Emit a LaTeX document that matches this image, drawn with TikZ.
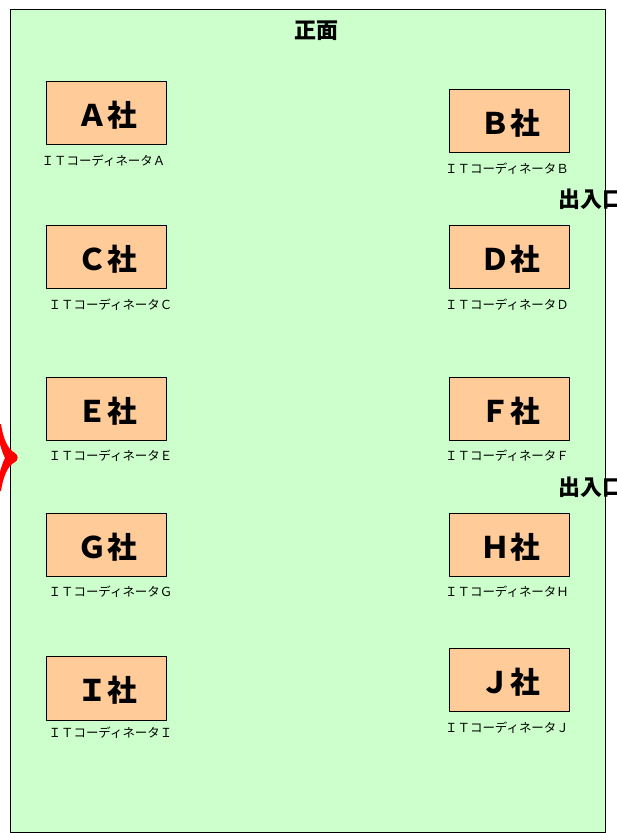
\documentclass[tikz,border=0pt]{standalone}
\usepackage{fontspec}
\setmainfont{Noto Sans CJK JP}
\definecolor{hallgreen}{HTML}{CCFFCC}
\definecolor{boothorange}{HTML}{FFCC99}
\tikzset{
  booth/.style={draw=black,line width=0.6pt,fill=boothorange,minimum width=90pt,minimum height=47.5pt,inner sep=0pt,text height=20.5pt,text depth=0pt,font=\fontsize{22.3}{24}\selectfont\bfseries},
  staff/.style={font=\fontsize{9.35}{11}\selectfont,inner sep=0pt},
  heading/.style={font=\fontsize{16.5}{19}\selectfont\bfseries,inner sep=0pt}
}
\begin{document}
\begin{tikzpicture}[x=0.75pt,y=-0.75pt,line join=bevel]
		\useasboundingbox (0,0) rectangle (617,833);
		\clip (0,0) rectangle (617,833);
		\draw[line width=0.7pt,fill=hallgreen] (10.5,9.5) rectangle (605,832) ;%hall
		\fill[red] (1,424)..controls (3,437) and (7,449) .. (15,453)..controls (18.5,455) and (18.5,460) .. (15,462)..controls (7,466) and (3,478) .. (1,491)--(-4,491)..controls (-2,478) and (1,466) .. (5,458)..controls (1,450) and (-2,438) .. (-4,424)--cycle ;%door mark
		\node[heading] (front) at (316,31) {正面};
		\node[heading,anchor=west] (doorup) at (558,199) {出入口};
		\node[heading,anchor=west] (doordown) at (558,487) {出入口};
		\foreach \Coord/\Sommet/\Sx/\Sy in {(106.25,113)/Ａ/103.5/160.5,(509.25,120.75)/Ｂ/507/168.5,(106.25,257)/Ｃ/110.5/304.5,(509.25,257)/Ｄ/507/304.5,(106.25,408.75)/Ｅ/110.5/455.5,(509.25,408.75)/Ｆ/507/455.5,(106.25,544.75)/Ｇ/110.5/591.5,(509.25,544.75)/Ｈ/507/591.5,(106.25,688.25)/Ｉ/110.5/732.5,(509.25,680)/Ｊ/507/727.5}
		{\node[booth] (booth\Sommet) at \Coord {\hspace{1.5pt}\Sommet 社};
		\node[staff] (staff\Sommet) at (\Sx,\Sy) {ＩＴコーディネータ\Sommet};}
\end{tikzpicture}
\end{document}
